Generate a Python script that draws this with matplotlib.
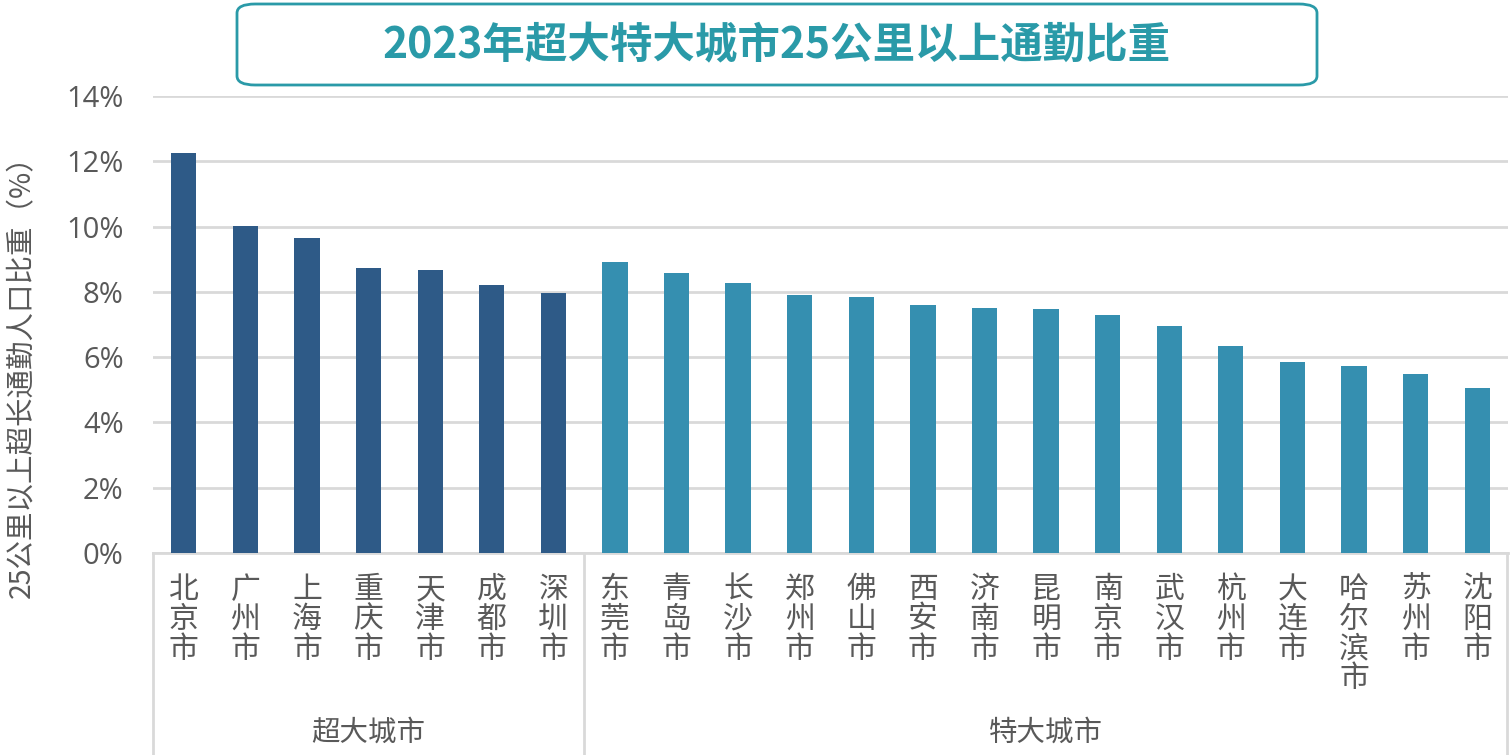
import matplotlib
matplotlib.use("Agg")
import matplotlib.pyplot as plt
from matplotlib.patches import FancyBboxPatch
from matplotlib.lines import Line2D

plt.rcParams['font.family'] = ['Noto Sans CJK SC', 'DejaVu Sans']

title = "2023年超大特大城市25公里以上通勤比重"
ylabel = "25公里以上超长通勤人口比重（%）"
groups = ["超大城市", "特大城市"]
mega_cities = ["北京市", "广州市", "上海市", "重庆市", "天津市", "成都市", "深圳市"]
mega_values = [12.25, 10.02, 9.65, 8.73, 8.67, 8.21, 7.97]
big_cities = ["东莞市", "青岛市", "长沙市", "郑州市", "佛山市", "西安市", "济南市", "昆明市",
              "南京市", "武汉市", "杭州市", "大连市", "哈尔滨市", "苏州市", "沈阳市"]
big_values = [8.92, 8.58, 8.27, 7.90, 7.84, 7.60, 7.51, 7.48, 7.29, 6.95, 6.34, 5.85, 5.73, 5.48, 5.06]
yticks = [0, 2, 4, 6, 8, 10, 12, 14]

c_mega = "#2E5A87"
c_big = "#358FB0"
grid_c = "#D9D9D9"
txt_c = "#595959"
teal = "#2A9AA8"

fig = plt.figure(figsize=(15.1, 7.55), dpi=100)
ax = fig.add_axes([153/1510, 1-553/755, (1508-153)/1510, (553-96)/755])

cities = mega_cities + big_cities
values = mega_values + big_values
colors = [c_mega]*len(mega_cities) + [c_big]*len(big_cities)
x = list(range(len(cities)))
ax.bar(x, values, width=0.41, color=colors, zorder=3)

ax.set_xlim(-0.5, len(cities)-0.5)
ax.set_ylim(0, 14)
ax.set_yticks(yticks)
ax.set_yticklabels([f"{t}%" for t in yticks], fontsize=21, color=txt_c, family=['Open Sans', 'DejaVu Sans'])
ax.tick_params(axis='y', length=0, pad=21)
ax.set_xticks([])
ax.yaxis.grid(True, color=grid_c, linewidth=2, zorder=0)
for s in ['top', 'right', 'left']:
    ax.spines[s].set_visible(False)
ax.spines['bottom'].set_color(grid_c)
ax.spines['bottom'].set_linewidth(2)

# y label
fig.text(22/1510, 1-370/755, ylabel, rotation=90, ha='center', va='center', fontsize=20.5, color=txt_c)

# city labels
tr = ax.get_xaxis_transform()
ybot = (553-755)/(553-96)
for i, c in enumerate(cities):
    ax.text(i, (553-574)/(553-96), "\n".join(c), transform=tr, ha='center', va='top',
            fontsize=21.5, color=txt_c, linespacing=0.95, clip_on=False)

# separators
n1 = len(mega_cities)
for xs in [-0.5, n1-0.5, len(cities)-0.5 - 0.02]:
    ax.add_line(Line2D([xs, xs], [0, ybot], transform=tr, color=grid_c, linewidth=2, clip_on=False))

# group labels
gy = (553-733)/(553-96)
ax.text((n1-1)/2, gy, groups[0], transform=tr, ha='center', va='center', fontsize=20.5, color=txt_c, clip_on=False)
ax.text((n1+len(cities)-1)/2, gy, groups[1], transform=tr, ha='center', va='center', fontsize=20.5, color=txt_c, clip_on=False)

# title box
box = FancyBboxPatch((237/1510, 1-85/755), (1317-237)/1510, (85-4)/755,
                     boxstyle="round,pad=0,rounding_size=0.012", transform=fig.transFigure,
                     facecolor='white', edgecolor=teal, linewidth=2)
fig.patches.append(box)
fig.text(777/1510, 1-45/755, title, ha='center', va='center', fontsize=30.6, fontweight='bold', color=teal)

fig.savefig("out.png", dpi=100)
